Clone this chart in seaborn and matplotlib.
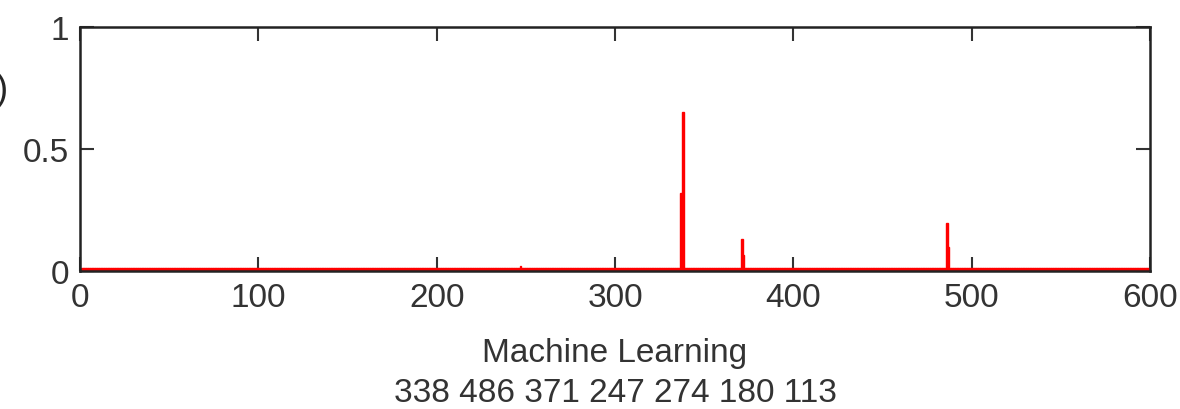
import numpy as np
import pandas as pd
import matplotlib
matplotlib.use('Agg')
import matplotlib.pyplot as plt
import seaborn as sns

# topic weights for the "Machine Learning" document
n_topics = 600
base_weight = 0.012
spike_topics = [247, 337, 338, 371, 372, 486, 487]
spike_weights = [0.02, 0.32, 0.65, 0.13, 0.065, 0.195, 0.10]
doc_title = 'Machine Learning'
top_topics = [338, 486, 371, 247, 274, 180, 113]
x_ticks = [0, 100, 200, 300, 400, 500, 600]
y_ticks = [0, 0.5, 1]
y_tick_labels = ['0', '0.5', '1']

weights = np.full(n_topics + 1, base_weight)
weights[0] = 0.0
weights[spike_topics] = spike_weights
df = pd.DataFrame({'topic': np.arange(n_topics + 1), 'weight': weights})

sns.set_style('ticks')
plt.rcParams['font.family'] = ['Liberation Sans', 'DejaVu Sans']

fig = plt.figure(figsize=(11.8, 4.1), dpi=100)
ax = fig.add_axes([0.0678, 0.3366, 0.9068, 0.5951])

sns.barplot(data=df, x='topic', y='weight', native_scale=True,
            color='red', width=1.0, linewidth=1.0, edgecolor='red',
            saturation=1, ax=ax)

ax.set_xlim(0, 600)
ax.set_ylim(0, 1)
ax.set_xticks(x_ticks)
ax.set_xticklabels([str(t) for t in x_ticks])
ax.set_yticks(y_ticks)
ax.set_yticklabels(y_tick_labels)
ax.tick_params(direction='in', length=10, width=1.5, top=True, right=True,
               labelsize=24, colors='#333333', pad=8)
for s in ax.spines.values():
    s.set_visible(True)
    s.set_linewidth(1.8)
    s.set_color('#222222')
    s.set_zorder(5)

ax.set_ylabel('')
ax.set_xlabel(doc_title + '\n' + ' '.join(str(t) for t in top_topics),
              fontsize=24, linespacing=1.4, labelpad=17, color='#333333')

fig.text(-0.02, 0.78, 'b)', fontsize=26, va='center', ha='left')

fig.savefig('out.png', dpi=100)
